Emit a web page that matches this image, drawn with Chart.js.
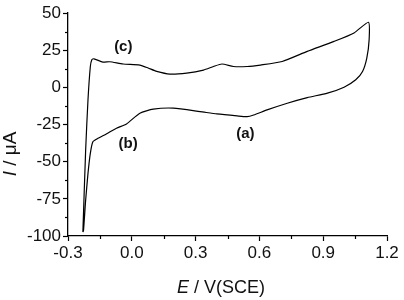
<!DOCTYPE html>
<html lang="en">
<head>
<meta charset="UTF-8">
<title>Cyclic voltammogram</title>
<script src="https://cdn.jsdelivr.net/npm/chart.js"></script>
<style>
  body { margin: 0; background: #fff; }
</style>
</head>
<body>
<canvas id="cv" width="404" height="300"></canvas>
<script>
// one closed scan: E in V vs SCE, I in uA
const potential = [-0.230, -0.217, -0.206, -0.195, -0.188, -0.178, -0.136, -0.104, -0.041, 0.038,
  0.077, 0.117, 0.179, 0.258, 0.337, 0.384, 0.424, 0.478, 0.542, 0.605,
  0.707, 0.825, 0.951, 1.045, 1.113,
  1.116, 1.105, 1.085, 1.053, 0.998, 0.920, 0.825, 0.731, 0.636, 0.573,
  0.542, 0.495, 0.400, 0.321, 0.195, 0.101, 0.038, -0.025, -0.072, -0.120,
  -0.159, -0.183, -0.195, -0.206, -0.217, -0.227, -0.230];
const current = [-97.4, -42.2, -8.4, 14.0, 18.6, 19.2, 17.0, 17.2, 15.7, 15.0,
  13.0, 10.7, 8.9, 9.6, 11.6, 14.0, 15.7, 14.0, 14.0, 15.0,
  17.4, 24.2, 30.9, 36.6, 43.8,
  32.1, 19.7, 10.7, 5.1, 0.1, -3.9, -6.9, -10.7, -15.2, -18.6,
  -19.7, -19.2, -17.9, -16.3, -14.0, -14.7, -17.4, -24.6, -27.5, -31.4,
  -34.3, -36.6, -44.4, -57.9, -76.0, -96.2, -97.4];

const xTicks = [-0.3, 0.0, 0.3, 0.6, 0.9, 1.2];
const yTicks = [-100, -75, -50, -25, 0, 25, 50];

const peakNames = ['(a)', '(b)', '(c)'];
const peakE = [0.534, -0.017, -0.040];
const peakI = [-31.6, -37.8, 26.9];

const points = potential.map((e, i) => ({ x: e, y: current[i] }));

function mixedText(ctx, parts, x, y) {
  // centred run of text pieces with their own fonts
  let w = 0;
  parts.forEach(p => { ctx.font = p.font; w += ctx.measureText(p.text).width; });
  let cx = x - w / 2;
  parts.forEach(p => {
    ctx.font = p.font;
    ctx.fillText(p.text, cx, y);
    cx += ctx.measureText(p.text).width;
  });
}

const extras = {
  id: 'extras',
  afterDraw(chart) {
    const ctx = chart.ctx, xs = chart.scales.x, ys = chart.scales.y, a = chart.chartArea;
    ctx.save();
    ctx.strokeStyle = '#000';
    ctx.lineWidth = 1.2;
    // minor ticks
    for (let i = 0; i < xTicks.length - 1; i++) {
      const px = Math.round(xs.getPixelForValue((xTicks[i] + xTicks[i + 1]) / 2)) + 0.5;
      ctx.beginPath(); ctx.moveTo(px, a.bottom); ctx.lineTo(px, a.bottom + 3); ctx.stroke();
    }
    for (let i = 0; i < yTicks.length - 1; i++) {
      const py = Math.round(ys.getPixelForValue((yTicks[i] + yTicks[i + 1]) / 2)) + 0.5;
      ctx.beginPath(); ctx.moveTo(a.left, py); ctx.lineTo(a.left - 3, py); ctx.stroke();
    }

    ctx.fillStyle = '#111';
    ctx.textBaseline = 'middle';
    ctx.textAlign = 'left';
    // peak labels
    peakNames.forEach((t, i) => {
      mixedText(ctx, [{ text: t, font: 'bold 15px "Liberation Sans", Arial, sans-serif' }],
        xs.getPixelForValue(peakE[i]), ys.getPixelForValue(peakI[i]));
    });

    // axis titles
    mixedText(ctx, [
      { text: 'E', font: 'italic 18px "Liberation Sans", Arial, sans-serif' },
      { text: ' / V(SCE)', font: '18px "Liberation Sans", Arial, sans-serif' }
    ], a.left + 153, 288);

    ctx.translate(11, 154);
    ctx.rotate(-Math.PI / 2);
    mixedText(ctx, [
      { text: 'I', font: 'italic 19px "Liberation Sans", Arial, sans-serif' },
      { text: ' / \u03BCA', font: '19px "Liberation Sans", Arial, sans-serif' }
    ], 0, 0);
    ctx.restore();
  }
};

const tickFont = { family: '"Liberation Sans", Arial, sans-serif', size: 17 };

new Chart(document.getElementById('cv').getContext('2d'), {
  type: 'scatter',
  data: {
    datasets: [{
      data: points,
      showLine: true,
      borderColor: '#000',
      borderWidth: 1.2,
      pointRadius: 0,
      tension: 0.2,
      fill: false
    }]
  },
  options: {
    responsive: false,
    animation: false,
    layout: { padding: { top: 13, right: 17, left: 0, bottom: 0 } },
    plugins: { legend: { display: false }, tooltip: { enabled: false } },
    scales: {
      x: {
        type: 'linear',
        min: -0.3,
        max: 1.2,
        afterBuildTicks: s => { s.ticks = xTicks.map(v => ({ value: v })); },
        afterFit: s => { s.height = 64; },
        ticks: { font: tickFont, color: '#111', padding: 2, maxRotation: 0,
                 callback: v => v.toFixed(1) },
        grid: { drawOnChartArea: false, tickLength: 5, tickColor: '#000', tickWidth: 1.2 },
        border: { color: '#000', width: 1.3 }
      },
      y: {
        min: -100,
        max: 50,
        afterBuildTicks: s => { s.ticks = yTicks.map(v => ({ value: v })); },
        afterFit: s => { s.width = 68; },
        ticks: { font: tickFont, color: '#111', padding: 2 },
        grid: { drawOnChartArea: false, tickLength: 5, tickColor: '#000', tickWidth: 1.2 },
        border: { color: '#000', width: 1.3 }
      }
    }
  },
  plugins: [extras]
});
</script>
</body>
</html>
